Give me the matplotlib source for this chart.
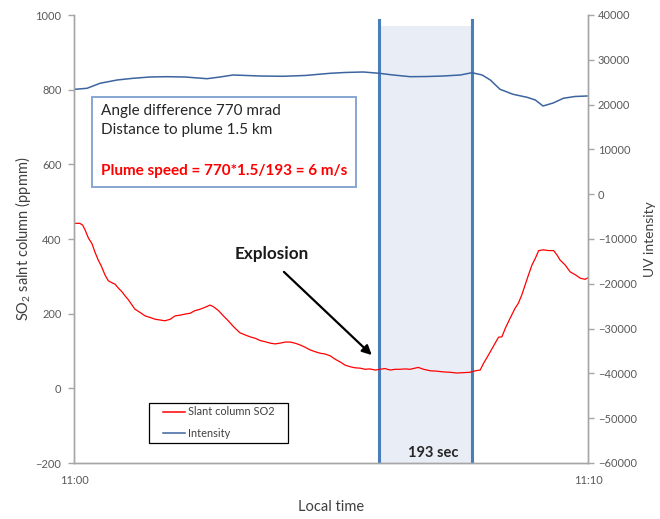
import matplotlib
matplotlib.use("Agg")
import matplotlib.pyplot as plt
from matplotlib.patches import Rectangle
from matplotlib.lines import Line2D

plt.rcParams['font.family'] = ['Lato', 'DejaVu Sans']
plt.rcParams['mathtext.default'] = 'regular'

# time in seconds after 11:00
t_so2 = [0, 12, 18, 23, 30, 37, 43, 50, 57, 64, 71, 78, 85, 92, 99, 106, 112, 119, 126,
         137, 147, 157, 168, 178, 188, 199, 209, 219, 230, 240, 250, 261, 271, 281, 288,
         299, 309, 319, 330, 343, 354, 364, 375, 385, 395, 406, 416, 426, 437, 447, 457,
         468, 478, 488, 499, 509, 519, 530, 540, 550, 561, 571, 581, 592, 602, 612, 623,
         633, 643, 654, 664, 674, 685, 695, 705, 712, 723, 737, 750, 764, 778, 792, 805,
         819, 830, 840, 847, 857, 867, 878, 885, 892, 902, 912, 919, 926, 933, 940, 947,
         954, 961, 971, 981, 992, 999, 1005, 1016, 1026, 1037, 1047, 1057, 1063]
so2 = [442, 442, 437, 424, 402, 388, 366, 344, 326, 304, 288, 283, 279, 268, 259, 247, 238,
       225, 212, 203, 194, 190, 185, 183, 181, 185, 194, 196, 199, 201, 208, 212, 217, 223,
       219, 208, 194, 181, 165, 149, 143, 138, 134, 128, 125, 121, 119, 121, 124, 124, 121,
       116, 110, 103, 98, 94, 92, 87, 78, 71, 62, 58, 55, 54, 51, 52, 49, 51, 53, 49, 51,
       51, 52, 51, 54, 56, 51, 47, 46, 44, 43, 41, 42, 43, 47, 49, 67, 89, 112, 137, 138,
       161, 188, 214, 228, 250, 277, 304, 330, 348, 369, 371, 369, 369, 357, 344, 330, 312,
       304, 295, 292, 296]

t_int = [0, 27, 54, 89, 122, 157, 192, 230, 275, 302, 329, 385, 432, 478, 530, 561, 598,
         631, 660, 695, 730, 763, 799, 823, 844, 861, 881, 908, 937, 954, 970, 991, 1012,
         1036, 1061]
intensity = [23400, 23640, 24760, 25490, 25870, 26160, 26230, 26160, 25780, 26160, 26610,
             26380, 26320, 26500, 26990, 27170, 27280, 26990, 26610, 26230, 26270, 26380,
             26610, 27120, 26610, 25490, 23420, 22300, 21630, 21030, 19690, 20360, 21410,
             21810, 21920]

t_end = 1063
span_start = 631
span_len = 193

grey = '#a6a6a6'
tick_col = '#595959'
red = '#ff0000'
blue = '#3c64a0'

fig = plt.figure(figsize=(6.6, 5.19), dpi=100)
ax = fig.add_axes([74 / 660, 1 - 463 / 519, 514 / 660, 448 / 519])
ax2 = ax.twinx()

# shaded window between the two sightings
ax.axvspan(span_start, span_start + span_len, ymin=0, ymax=0.975, color='#e9eef6', lw=0, zorder=0)
for xv in (span_start, span_start + span_len):
    ax.axvline(xv, ymin=0, ymax=0.989, color='#4a7ebb', lw=2.2, zorder=1)

ax.plot(t_so2, so2, color=red, lw=0.9, zorder=2)
ax2.plot(t_int, intensity, color=blue, lw=1.1)

ax.set_xlim(0, t_end)
ax.set_ylim(-200, 1000)
ax2.set_ylim(-60000, 40000)
ax.set_yticks(range(-200, 1001, 200))
ax2.set_yticks(range(-60000, 40001, 10000))
ax.set_xticks([0, t_end])
ax.set_xticklabels(['11:00', '11:10'])

for a in (ax, ax2):
    a.spines['top'].set_visible(False)
    for s in ('left', 'right', 'bottom'):
        a.spines[s].set_color(grey)
        a.spines[s].set_linewidth(1.0)
    a.tick_params(axis='y', colors=grey, labelcolor=tick_col, labelsize=8, length=4, width=1)
ax.tick_params(axis='y', pad=5)
ax2.tick_params(axis='y', pad=3)
ax.tick_params(axis='x', length=0, pad=9, labelcolor=tick_col, labelsize=8)

ax.set_ylabel('SO$_2$ salnt column (ppmm)', fontsize=10.5, color='#404040')
ax.yaxis.set_label_coords(-0.08, 0.5)
ax2.set_ylabel('UV intensity', fontsize=10, color='#404040')
ax2.yaxis.set_label_coords(1.109, 0.5)
ax.set_xlabel('Local time', fontsize=10.5, color='#404040')
ax.xaxis.set_label_coords(0.5, -0.083)

# info box
ax.add_patch(Rectangle((0.035, 0.616), 0.5136, 0.201, transform=ax.transAxes, fill=True,
                       facecolor='white', edgecolor='#7f9fcf', lw=1.3, zorder=3))
ax.text(0.052, 0.786, 'Angle difference 770 mrad', transform=ax.transAxes, fontsize=11,
        color='#262626', va='center', zorder=4)
ax.text(0.052, 0.743, 'Distance to plume 1.5 km', transform=ax.transAxes, fontsize=11,
        color='#262626', va='center', zorder=4)
ax.text(0.052, 0.652, 'Plume speed = 770*1.5/193 = 6 m/s', transform=ax.transAxes, fontsize=11,
        color=red, fontweight='bold', va='center', zorder=4)

ax.annotate('', xy=(620, 84), xytext=(430, 317),
            arrowprops=dict(arrowstyle='-|>', color='black', lw=1.6, mutation_scale=14))
ax.text(408, 360, 'Explosion', fontsize=12.3, fontweight='bold', color='#1a1a1a',
        ha='center', va='center')
ax.text(743, -172, '193 sec', fontsize=10.5, fontweight='bold', color='#262626',
        ha='center', va='center')

# legend box
ax.add_patch(Rectangle((0.1459, 0.0446), 0.2704, 0.0893, transform=ax.transAxes,
                       facecolor='white', edgecolor='black', lw=0.9, zorder=5))
for yy, col, lab in ((0.1145, red, 'Slant column SO2'), (0.0663, blue, 'Intensity')):
    ax.add_line(Line2D([0.1732, 0.216], [yy, yy], transform=ax.transAxes, color=col,
                       lw=1.1, zorder=6))
    ax.text(0.2218, yy, lab, transform=ax.transAxes, fontsize=7.9, color='#404040',
            va='center', zorder=6)

fig.savefig('out.png', dpi=100)
